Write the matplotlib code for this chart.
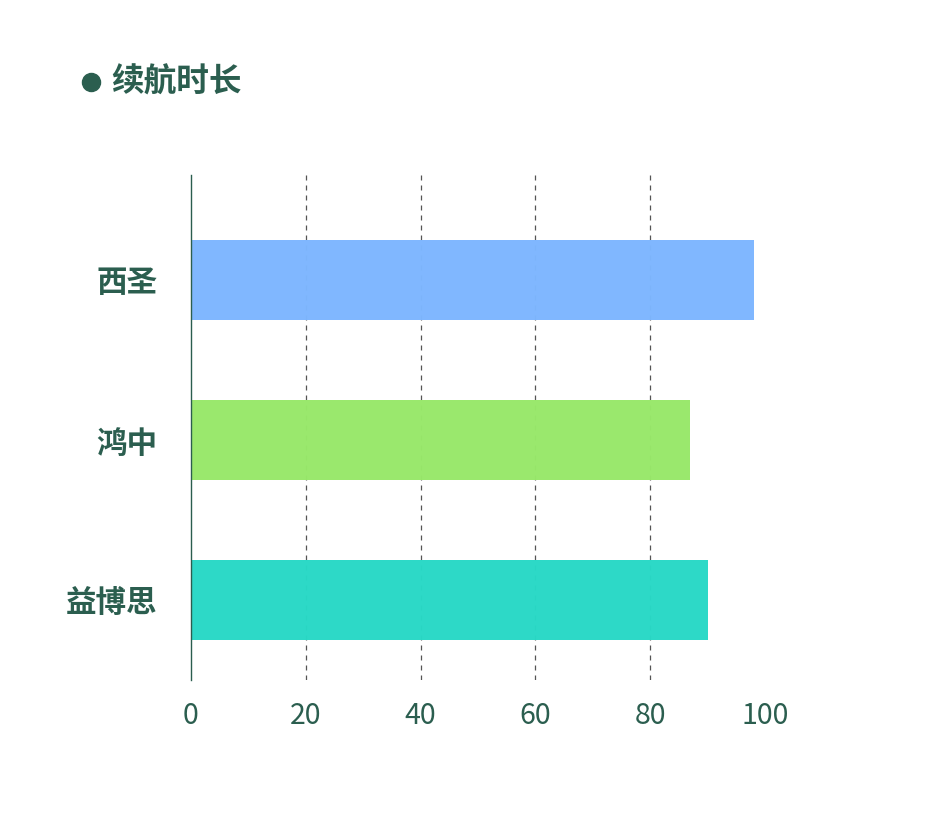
import matplotlib.pyplot as plt
from matplotlib.lines import Line2D

# data
brands = ['益博思', '鸿中', '西圣']
battery = [90, 87, 98]
bar_colors = ['#28d9c6', '#98e86a', '#7db6ff']
x_ticks = [0, 20, 40, 60, 80, 100]

text_color = '#2b5e4f'
plt.rcParams['font.family'] = ['Noto Sans CJK SC', 'DejaVu Sans']

fig = plt.figure(figsize=(9.33, 8.36), dpi=100)
ax = fig.add_axes([191 / 933, 1 - 680 / 836, 574 / 933, 505 / 836])

ax.barh(range(len(brands)), battery, height=0.5, color=bar_colors, alpha=0.98, zorder=2)

ax.set_xlim(0, 100)
ax.set_ylim(-0.5, 2.656)
ax.set_xticks(x_ticks)
ax.set_xticklabels([str(t) for t in x_ticks], fontsize=20.5, fontweight='light', color=text_color)
ax.set_yticks(range(len(brands)))
ax.set_yticklabels(brands, fontsize=22, fontweight='bold', color=text_color)
ax.tick_params(axis='x', length=0, pad=15)
ax.tick_params(axis='y', length=0, pad=24)

# dashed grid, skip the last one
for t in x_ticks[1:-1]:
    ax.axvline(t, color='#555555', linestyle=(0, (4, 4)), linewidth=0.9, zorder=1)

for side in ['top', 'right', 'bottom']:
    ax.spines[side].set_visible(False)
ax.spines['left'].set_color(text_color)
ax.spines['left'].set_linewidth(1)

# title with dot
fig.add_artist(Line2D([91 / 933], [1 - 82 / 836], marker='o', markersize=13,
                      color=text_color, transform=fig.transFigure))
fig.text(111 / 933, 1 - 82 / 836, '续航时长', fontsize=23.5, fontweight='bold',
         color=text_color, va='center', ha='left')

fig.savefig('out.png', dpi=100)
